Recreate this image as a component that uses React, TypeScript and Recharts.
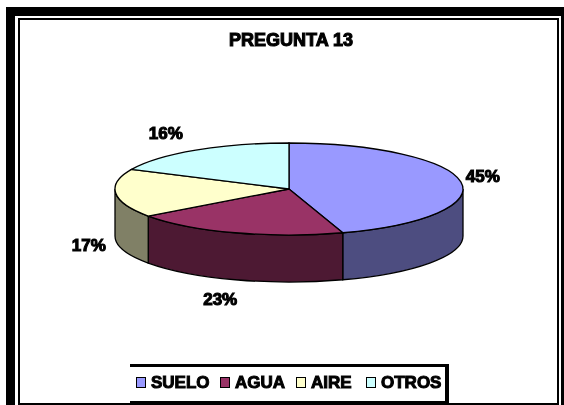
import { PieChart, Pie, Legend } from 'recharts';

const CATEGORIES = ['SUELO', 'AGUA', 'AIRE', 'OTROS'];
// slice shares as measured on the drawn ellipse, the printed percents differ a bit
const SHARES = [45, 20, 17, 18];
const PRINTED = ['45%', '23%', '17%', '16%'];
const TOP_COLORS = ['#9999FF', '#993366', '#FFFFCC', '#CCFFFF'];
const WALL_COLORS = ['#4D4D80', '#4D1933', '#808066', '#668080'];

const RX = 174;
const RY = 46;
const DEPTH = 47;
const LABEL_FONT = '"Liberation Sans", Arial, sans-serif';
const labelShift = [
  [22, -5],
  [-15, 20],
  [-27, 5],
  [-30, -17],
];

const topData = CATEGORIES.map((name, i) => ({ name, value: SHARES[i], fill: TOP_COLORS[i] }));
const wallData = CATEGORIES.map((name, i) => ({ name, value: SHARES[i], fill: WALL_COLORS[i] }));

const rad = (deg: number) => (deg * Math.PI) / 180;
const onRim = (cx: number, cy: number, deg: number) => [cx + RX * Math.cos(rad(deg)), cy + RY * Math.sin(rad(deg))];

// recharts hands over a round sector, these two squash it into the tilted pie
function TopSlice({ cx, cy, startAngle, endAngle, fill }: any) {
  const from = -startAngle;
  const to = -endAngle;
  const [x1, y1] = onRim(cx, cy, from);
  const [x2, y2] = onRim(cx, cy, to);
  const large = to - from > 180 ? 1 : 0;
  return (
    <path
      d={`M${cx},${cy} L${x1},${y1} A${RX},${RY} 0 ${large} 1 ${x2},${y2} Z`}
      fill={fill}
      stroke="#000"
      strokeWidth={1.3}
    />
  );
}

function WallSlice({ cx, cy, startAngle, endAngle, fill }: any) {
  const from = Math.max(-startAngle, 0);
  const to = Math.min(-endAngle, 180);
  if (from >= to) return null;
  const [x1, y1] = onRim(cx, cy, from);
  const [x2, y2] = onRim(cx, cy, to);
  return (
    <path
      d={`M${x1},${y1} A${RX},${RY} 0 0 1 ${x2},${y2} L${x2},${y2 + DEPTH} A${RX},${RY} 0 0 0 ${x1},${y1 + DEPTH} Z`}
      fill={fill}
      stroke="#000"
      strokeWidth={1.3}
    />
  );
}

function SliceLabel({ cx, cy, midAngle, index }: any) {
  const [x, y] = onRim(cx, cy, -midAngle);
  const front = Math.sin(rad(-midAngle)) > 0 ? DEPTH : 0;
  return (
    <text
      x={x + labelShift[index][0]}
      y={y + front + labelShift[index][1]}
      textAnchor="middle"
      dominantBaseline="central"
      fontFamily={LABEL_FONT}
      fontWeight={700}
      fontSize={17}
      stroke="#000"
      strokeWidth={1.1}
      fill="#000"
    >
      {PRINTED[index]}
    </text>
  );
}

function LegendBox({ payload }: any) {
  const swatchLeft = [6, 90, 166, 236];
  // the wall series also lands in the payload, only the top faces get a key
  const items = (payload || []).filter((entry: any) => TOP_COLORS.includes(entry.color));
  return (
    <div style={{ position: 'relative', height: '100%' }}>
      {items.map((entry: any, i: number) => (
        <div key={entry.value} style={{ position: 'absolute', left: swatchLeft[i], top: 6, display: 'flex', alignItems: 'center' }}>
          <span style={{ width: 8, height: 9, background: entry.color, border: '1.5px solid #000', marginRight: 5 }} />
          <span style={{ fontFamily: LABEL_FONT, fontWeight: 700, fontSize: 17, lineHeight: '19px', color: '#000', WebkitTextStroke: '1px #000' }}>
            {entry.value}
          </span>
        </div>
      ))}
    </div>
  );
}

const bar = (left: number, top: number, width: number, height: number) => (
  <div style={{ position: 'absolute', left, top, width, height, background: '#000' }} />
);

export default function App() {
  return (
    <div style={{ position: 'absolute', left: 0, top: 0, width: 564, height: 405, overflow: 'hidden', background: '#fff' }}>
      {bar(6, 7, 558, 9)}
      {bar(6, 7, 9, 398)}
      {bar(18, 18, 540, 2)}
      {bar(18, 18, 2, 387)}
      {bar(557, 18, 2, 387)}
      {bar(561, 7, 3, 398)}
      {bar(18, 403, 541, 2)}
      <div style={{ filter: 'blur(0.6px)' }}>
        <div
          style={{
            position: 'absolute',
            left: 20,
            width: 542,
            top: 30,
            textAlign: 'center',
            fontFamily: LABEL_FONT,
            fontWeight: 700,
            fontSize: 18,
            lineHeight: '20px',
            color: '#000',
            WebkitTextStroke: '1.1px #000',
          }}
        >
          PREGUNTA 13
        </div>
        <PieChart
          width={564}
          height={405}
          margin={{ top: 0, right: 0, bottom: 0, left: 0 }}
          style={{ position: 'absolute', left: 0, top: 0 }}
        >
          <Pie
            data={wallData}
            dataKey="value"
            nameKey="name"
            cx={289}
            cy={189}
            outerRadius={RX}
            startAngle={90}
            endAngle={-270}
            legendType="none"
            shape={WallSlice}
            isAnimationActive={false}
          />
          <Pie
            data={topData}
            dataKey="value"
            nameKey="name"
            cx={289}
            cy={189}
            outerRadius={RX}
            startAngle={90}
            endAngle={-270}
            shape={TopSlice}
            label={SliceLabel}
            labelLine={false}
            isAnimationActive={false}
          />
          <Legend
            content={LegendBox}
            itemSorter={null}
            wrapperStyle={{
              left: 130,
              top: 364,
              width: 319,
              height: 39,
              boxSizing: 'border-box',
              borderTop: '3px solid #000',
              borderRight: '4px solid #000',
              borderBottom: '2px solid #000',
              background: '#fff',
            }}
          />
        </PieChart>
      </div>
    </div>
  );
}
